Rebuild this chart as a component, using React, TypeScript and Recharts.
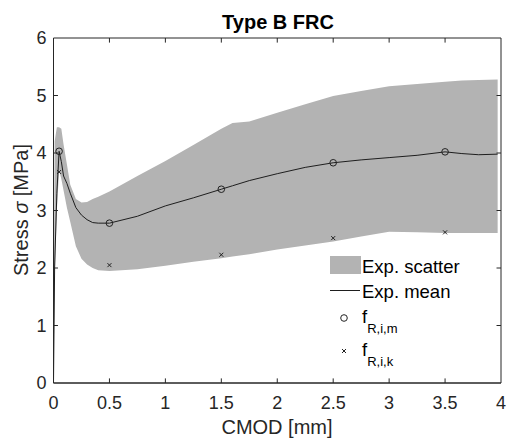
import {
  ComposedChart,
  Area,
  Line,
  Scatter,
  XAxis,
  YAxis,
  ReferenceLine,
  ReferenceArea,
} from "recharts";

// CMOD grid [mm] shared by the scatter band and the mean curve
const cmod = [
  0, 0.01, 0.03, 0.05, 0.07, 0.09, 0.12, 0.15, 0.2, 0.25, 0.3, 0.35, 0.4, 0.5,
  0.75, 1.0, 1.25, 1.5, 1.6, 1.75, 2.0, 2.25, 2.5, 2.75, 3.0, 3.25, 3.5, 3.65,
  3.8, 3.97,
];
const scatterLow = [
  0, 1.8, 3.0, 3.7, 3.55, 3.35, 3.05, 2.8, 2.38, 2.16, 2.06, 2.0, 1.96, 1.95,
  1.98, 2.04, 2.11, 2.17, 2.2, 2.24, 2.32, 2.39, 2.46, 2.55, 2.63, 2.62, 2.61,
  2.61, 2.61, 2.61,
];
const scatterHigh = [
  0, 4.2, 4.45, 4.45, 4.42, 4.15, 3.8, 3.45, 3.2, 3.14, 3.15, 3.2, 3.24, 3.33,
  3.6, 3.86, 4.14, 4.42, 4.52, 4.55, 4.7, 4.85, 4.99, 5.08, 5.16, 5.2, 5.24,
  5.26, 5.27, 5.28,
];
const meanStress = [
  0, 2.0, 3.3, 4.03, 3.85, 3.6, 3.47, 3.3, 3.05, 2.92, 2.84, 2.79, 2.78, 2.78,
  2.9, 3.08, 3.22, 3.37, 3.43, 3.52, 3.64, 3.75, 3.83, 3.88, 3.92, 3.96, 4.02,
  3.99, 3.97, 3.98,
];

// residual strengths
const fCmod = [0.05, 0.5, 1.5, 2.5, 3.5];
const fRm = [4.03, 2.78, 3.37, 3.83, 4.02];
const fRk = [3.67, 2.05, 2.23, 2.52, 2.62];

const xTicks = [0, 0.5, 1, 1.5, 2, 2.5, 3, 3.5, 4];
const yTicks = [0, 1, 2, 3, 4, 5, 6];

const tableData = cmod.map((x, i) => ({
  x,
  band: [scatterLow[i], scatterHigh[i]],
  mean: meanStress[i],
}));
const rmData = fCmod.map((x, i) => ({ x, y: fRm[i] }));
const rkData = fCmod.map((x, i) => ({ x, y: fRk[i] }));

const INK = "#262626";
const FONT = "'Liberation Sans', Arial, Helvetica, sans-serif";

const OpenCircle = (p: any) => (
  <circle cx={p.cx} cy={p.cy} r={3.3} fill="none" stroke="#222" strokeWidth={1} />
);
const Cross = (p: any) => (
  <g stroke="#222" strokeWidth={1}>
    <line x1={p.cx - 2} y1={p.cy - 2} x2={p.cx + 2} y2={p.cy + 2} />
    <line x1={p.cx - 2} y1={p.cy + 2} x2={p.cx + 2} y2={p.cy - 2} />
  </g>
);

export default function App() {
  const tickStyle = { fill: INK, fontSize: 18, fontFamily: FONT };
  return (
    <div style={{ position: "absolute", left: 0, top: 0, width: 507, height: 438, background: "#fff" }}>
      <ComposedChart
        width={507}
        height={438}
        data={tableData}
        margin={{ top: 38, right: 6, bottom: 0, left: 0 }}
      >
        <XAxis
          dataKey="x"
          type="number"
          domain={[0, 4]}
          ticks={xTicks}
          tick={tickStyle}
          tickSize={0}
          tickMargin={13.5}
          height={55}
          axisLine={{ stroke: INK }}
          allowDataOverflow
        />
        <YAxis
          type="number"
          domain={[0, 6]}
          ticks={yTicks}
          tick={tickStyle}
          tickSize={0}
          tickMargin={7}
          width={53.5}
          axisLine={{ stroke: INK }}
          allowDataOverflow
        />
        <Area
          dataKey="band"
          type="linear"
          stroke="none"
          fill="#b3b3b3"
          fillOpacity={1}
          isAnimationActive={false}
        />
        <Line
          dataKey="mean"
          type="linear"
          stroke="#1e1e1e"
          strokeWidth={1}
          dot={false}
          isAnimationActive={false}
        />
        <Scatter data={rmData} dataKey="y" shape={OpenCircle} isAnimationActive={false} />
        <Scatter data={rkData} dataKey="y" shape={Cross} isAnimationActive={false} />
        <ReferenceArea x1={0} x2={4} y1={0} y2={6} fill="none" fillOpacity={0} stroke={INK} strokeWidth={1} />
        {xTicks.slice(1, -1).map((t) => (
          <ReferenceLine key={"xb" + t} segment={[{ x: t, y: 0 }, { x: t, y: 0.08 }]} stroke={INK} />
        ))}
        {xTicks.slice(1, -1).map((t) => (
          <ReferenceLine key={"xt" + t} segment={[{ x: t, y: 6 }, { x: t, y: 5.92 }]} stroke={INK} />
        ))}
        {yTicks.slice(1, -1).map((t) => (
          <ReferenceLine key={"yl" + t} segment={[{ x: 0, y: t }, { x: 0.04, y: t }]} stroke={INK} />
        ))}
        {yTicks.slice(1, -1).map((t) => (
          <ReferenceLine key={"yr" + t} segment={[{ x: 4, y: t }, { x: 3.96, y: t }]} stroke={INK} />
        ))}
      </ComposedChart>

      <svg
        width={507}
        height={438}
        style={{ position: "absolute", left: 0, top: 0, pointerEvents: "none" }}
        fontFamily={FONT}
      >
        <text x={278} y={28.5} textAnchor="middle" fontSize={20} fontWeight="bold" fill="#000">
          Type B FRC
        </text>
        <text x={277} y={434} textAnchor="middle" fontSize={20} fill={INK}>
          CMOD [mm]
        </text>
        <text
          x={28}
          y={210}
          textAnchor="middle"
          fontSize={20}
          fill={INK}
          transform="rotate(-90 28 210)"
        >
          Stress <tspan fontStyle="italic">σ</tspan> [MPa]
        </text>

        {/* legend */}
        <rect x={330} y={256} width={31} height={18} fill="#b3b3b3" />
        <text x={362} y={273.3} fontSize={18.5} fill="#000">Exp. scatter</text>
        <line x1={330} y1={290.5} x2={360} y2={290.5} stroke="#1e1e1e" strokeWidth={1} />
        <text x={362} y={298} fontSize={18.5} fill="#000">Exp. mean</text>
        <circle cx={344} cy={318} r={3.3} fill="none" stroke="#222" />
        <text x={362} y={323} fontSize={18.5} fill="#000">
          f<tspan fontSize={13} dy={10}>R,i,m</tspan>
        </text>
        <g stroke="#222">
          <line x1={342} y1={349} x2={346} y2={353} />
          <line x1={342} y1={353} x2={346} y2={349} />
        </g>
        <text x={362} y={356} fontSize={18.5} fill="#000">
          f<tspan fontSize={13} dy={10}>R,i,k</tspan>
        </text>
      </svg>
    </div>
  );
}
